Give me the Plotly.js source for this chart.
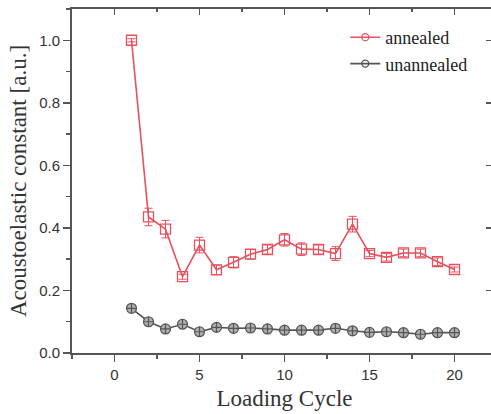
<!DOCTYPE html>
<html><head><meta charset="utf-8">
<script src="https://cdn.plot.ly/plotly-3.0.1.min.js"></script>
<style>html,body{margin:0;padding:0;overflow:hidden;background:#fff}</style>
</head><body><div id="chart"></div>
<script>
const cycles = [1,2,3,4,5,6,7,8,9,10,11,12,13,14,15,16,17,18,19,20];
const annealed = [1.0,0.435,0.396,0.244,0.345,0.266,0.29,0.316,0.331,0.362,0.332,0.331,0.318,0.412,0.318,0.306,0.32,0.32,0.292,0.267];
const annealedErr = [0.005,0.028,0.028,0.008,0.025,0.015,0.018,0.015,0.015,0.02,0.02,0.015,0.022,0.025,0.01,0.012,0.012,0.012,0.012,0.008];
const unannealed = [0.143,0.100,0.077,0.092,0.068,0.082,0.079,0.080,0.077,0.073,0.073,0.073,0.079,0.071,0.066,0.068,0.065,0.060,0.065,0.065];
const unannealedErr = [0.006,0.006,0.006,0.006,0.006,0.006,0.006,0.006,0.006,0.006,0.006,0.006,0.006,0.006,0.006,0.006,0.006,0.006,0.006,0.006];
const seriesNames = ['annealed', 'unannealed'];
const xTicks = [0,5,10,15,20];
const yTicks = [0,0.2,0.4,0.6,0.8,1.0];
const yTickLabels = ['0.0','0.2','0.4','0.6','0.8','1.0'];

const red = '#e8505e';
const gray = '#555555';
const axisColor = '#555555';

const traces = [
  {x: cycles, y: annealed, name: seriesNames[0], type: 'scatter', mode: 'lines+markers', showlegend: false,
   line: {color: red, width: 1.6},
   marker: {symbol: 'square-open', size: 10, color: red, line: {width: 1.3, color: red}},
   error_y: {type: 'data', array: annealedErr, visible: true, color: red, thickness: 1, width: 4}},
  {x: cycles, y: unannealed, name: seriesNames[1], type: 'scatter', mode: 'lines+markers', showlegend: false,
   line: {color: gray, width: 1.6},
   marker: {symbol: 'circle-cross', size: 10, color: '#b0b0b0', line: {width: 1.2, color: gray}},
   error_y: {type: 'data', array: unannealedErr, visible: true, color: gray, thickness: 1, width: 3}},
  {x: [null], y: [null], name: seriesNames[0], type: 'scatter', mode: 'lines+markers', showlegend: true,
   line: {color: red, width: 1.6}, marker: {symbol: 'circle-open', size: 7, color: red, line: {width: 1.3, color: red}}},
  {x: [null], y: [null], name: seriesNames[1], type: 'scatter', mode: 'lines+markers', showlegend: true,
   line: {color: gray, width: 1.6}, marker: {symbol: 'circle-open', size: 7, color: gray, line: {width: 1.3, color: gray}}},
  {x: [], y: [], xaxis: 'x2', yaxis: 'y2', showlegend: false, hoverinfo: 'skip'}
];

const tickFont = {family: 'Liberation Sans, Arial, sans-serif', size: 15, color: '#333'};
const serif = 'Liberation Serif, Times New Roman, serif';
const layout = {
  width: 499, height: 414,
  margin: {l: 72, r: 2, t: 9, b: 61},
  paper_bgcolor: '#fff', plot_bgcolor: '#fff',
  showlegend: true,
  legend: {x: 0.643, y: 0.971, xanchor: 'left', yanchor: 'top', bgcolor: 'rgba(0,0,0,0)',
           font: {family: serif, size: 18, color: '#222'}, tracegroupgap: 0},
  xaxis: {range: [-2.5, 22.5], tickvals: xTicks, ticks: 'outside', ticklen: 7, tickwidth: 1.5, tickcolor: axisColor,
          minor: {dtick: 2.5, tick0: 0, ticks: 'outside', ticklen: 4, tickwidth: 1.5, tickcolor: axisColor, showgrid: false},
          showline: true, linecolor: axisColor, linewidth: 2, showgrid: false, zeroline: false,
          tickfont: tickFont,
          title: {text: 'Loading Cycle', font: {family: serif, size: 23, color: '#333'}, standoff: 8}},
  yaxis: {range: [0, 1.1], tickvals: yTicks, ticktext: yTickLabels, ticks: 'outside', ticklen: 7, tickwidth: 1.5, tickcolor: axisColor,
          minor: {dtick: 0.1, tick0: 0, ticks: 'outside', ticklen: 4, tickwidth: 1.5, tickcolor: axisColor, showgrid: false},
          showline: true, linecolor: axisColor, linewidth: 2, showgrid: false, zeroline: false,
          tickfont: tickFont,
          title: {text: 'Acoustoelastic constant [a.u.]', font: {family: serif, size: 23, color: '#333'}, standoff: 6}},
  xaxis2: {overlaying: 'x', side: 'top', matches: 'x', range: [-2.5, 22.5], tickvals: xTicks, showticklabels: false,
           ticks: 'inside', ticklen: 6, tickwidth: 1.5, tickcolor: axisColor,
           minor: {dtick: 2.5, tick0: 0, ticks: 'inside', ticklen: 3, tickwidth: 1.5, tickcolor: axisColor, showgrid: false},
           showline: true, linecolor: axisColor, linewidth: 2, showgrid: false, zeroline: false},
  yaxis2: {overlaying: 'y', side: 'right', range: [0, 1.1], tickvals: yTicks, showticklabels: false,
           ticks: 'inside', ticklen: 11, tickwidth: 1.5, tickcolor: axisColor,
           showline: false, showgrid: false, zeroline: false}
};
Plotly.newPlot('chart', traces, layout, {displayModeBar: false, staticPlot: true});
</script></body></html>
